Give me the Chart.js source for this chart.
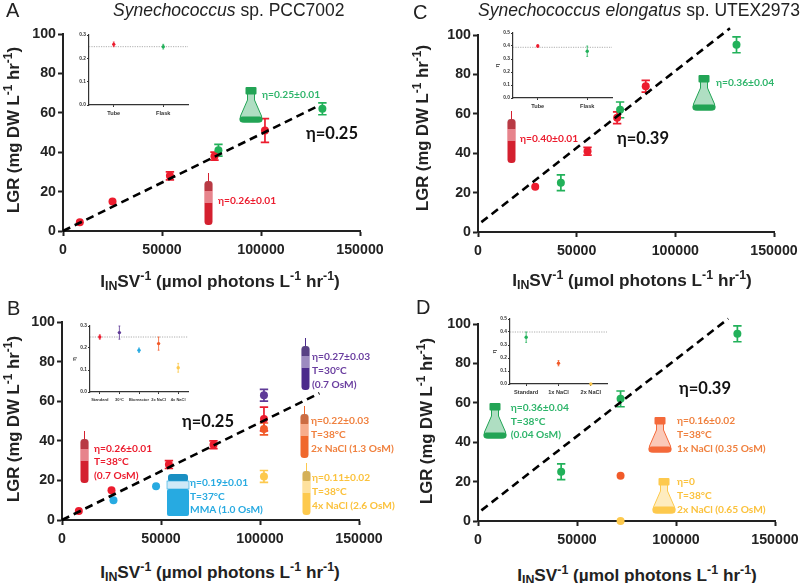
<!DOCTYPE html>
<html><head><meta charset="utf-8">
<script src="https://cdn.jsdelivr.net/npm/chart.js@4"></script>
<style>
html,body{margin:0;padding:0;background:#fff;width:800px;height:583px;overflow:hidden}
#stage{position:relative;width:800px;height:583px}
canvas{position:absolute}
.t{position:absolute;white-space:nowrap;line-height:1;transform:translateY(-50%)}
.note{font:700 10.2px Lato,sans-serif}
.eta{font:700 16.5px Lato,sans-serif;color:#111}
.lab{font:400 20px "Liberation Sans",sans-serif;color:#222}
.ttl{font:400 17.5px "Liberation Sans",sans-serif;color:#222}
.ax{font:700 17.2px "Liberation Sans",sans-serif;color:#222;transform:translate(-50%,-50%)}
.ay{font:700 16.7px "Liberation Sans",sans-serif;color:#222;transform:translate(-50%,-50%) rotate(-90deg)}
sup{font-size:.72em;line-height:0;vertical-align:.55em}
sub{font-size:.72em;line-height:0;vertical-align:-.3em}
svg{position:absolute;overflow:visible}
</style></head><body><div id="stage"></div>
<script>
// Palette
const RED='#ec1c2e',GREEN='#22b15a',BLUE='#27aae1',PURPLE='#5f3a97',ORANGE='#f15a29',YELLOW='#fdc94d',AMBER='#f47a3a';

// Axis ticks
const xTicks=[0,50000,100000,150000];
const yTicks=[0,20,40,60,80,100];

// Panel A
const aRedX=[8500,25000,54000,76500,102000];
const aRedY=[4.5,15,28,38,51];
const aRedErr=[0,0,2,2,6];
const aGreenX=[78500,131000];
const aGreenY=[41,62];
const aGreenErr=[3,3];
const aFitX=[0,129000];
const aFitY=[0,63.5];

// Panel C
const cRedX=[29000,55500,70500,85000];
const cRedY=[23,41,58,74];
const cRedErr=[0,2,3,3];
const cGreenX=[42000,72000,131000];
const cGreenY=[25,62,95];
const cGreenErr=[4,4,4];
const cFitX=[1700,127700];
const cFitY=[5,103.4];

// Panel B
const bRedX=[8500,25000,54000,76500,102000];
const bRedY=[4.5,15,28,38,51];
const bRedErr=[0,0,2,2,6];
const bBlueX=[26000,47500];
const bBlueY=[10,17];
const bBlueErr=[0,0];
const bPurpleX=[102000];
const bPurpleY=[63];
const bPurpleErr=[3];
const bOrangeX=[102000];
const bOrangeY=[46];
const bOrangeErr=[3];
const bYellowX=[102000];
const bYellowY=[22];
const bYellowErr=[3];
const bFitX=[0,130000];
const bFitY=[0,64];

// Panel D
const dGreenX=[42000,72000,131000];
const dGreenY=[25,62,95];
const dGreenErr=[4,4,4];
const dOrangeX=[72000];
const dOrangeY=[23];
const dOrangeErr=[0];
const dYellowX=[72000];
const dYellowY=[0];
const dYellowErr=[0];
const dFitX=[1700,126400];
const dFitY=[5.4,102.7];

// Insets
const iaLabels=['Tube','Flask'];
const iaValues=[0.26,0.25];
const iaErr=[0.01,0.01];
const iaTicks=[0,0.1,0.2,0.3];
const iaRef=0.25;

const icLabels=['Tube','Flask'];
const icValues=[0.40,0.36];
const icErr=[0.01,0.04];
const icTicks=[0,0.1,0.2,0.3,0.4,0.5];
const icRef=0.39;

const ibLabels=['Standard','30°C','Bioreactor','2x NaCl','4x NaCl'];
const ibValues=[0.25,0.27,0.19,0.22,0.11];
const ibErr=[0.01,0.03,0.01,0.03,0.02];
const ibTicks=[0,0.1,0.2,0.3];
const ibRef=0.25;

const idLabels=['Standard','1x NaCl','2x NaCl'];
const idValues=[0.36,0.16,0];
const idErr=[0.04,0.02,0];
const idTicks=[0,0.1,0.2,0.3,0.4,0.5];
const idRef=0.40;

const stage=document.getElementById('stage');

// Error bars, drawn through the chart's own scales
const errorBars={id:'errorBars',beforeDatasetsDraw(ch,a,o){
  const c=ch.ctx,ys=ch.scales.y;
  ch.data.datasets.forEach((ds,i)=>{
    if(!ds.err)return;
    const meta=ch.getDatasetMeta(i);
    meta.data.forEach((p,k)=>{
      const e=ds.err[k];if(!e)return;
      const px=p.x,hi=ys.getPixelForValue(ds.val[k]+e),lo=ys.getPixelForValue(ds.val[k]-e);
      const col=Array.isArray(ds.pointBackgroundColor)?ds.pointBackgroundColor[k]:ds.pointBackgroundColor;
      c.save();c.strokeStyle=col;c.lineWidth=o.width;c.beginPath();
      c.moveTo(px,hi);c.lineTo(px,lo);
      c.moveTo(px-o.cap,hi);c.lineTo(px+o.cap,hi);
      c.moveTo(px-o.cap,lo);c.lineTo(px+o.cap,lo);
      c.stroke();c.restore();
    });
  });
}};
// Dotted reference level of the insets
const refLine={id:'refLine',beforeDatasetsDraw(ch,a,o){
  if(o.value==null)return;
  const c=ch.ctx,y=ch.scales.y.getPixelForValue(o.value),A=ch.chartArea;
  c.save();c.strokeStyle='#9a9a9a';c.lineWidth=.8;c.setLineDash([1.2,1.2]);
  c.beginPath();c.moveTo(A.left,y);c.lineTo(A.right,y);c.stroke();c.restore();
}};

function place(left,top,w,h){
  const cv=document.createElement('canvas');
  cv.width=w;cv.height=h;cv.style.left=left+'px';cv.style.top=top+'px';
  cv.style.width=w+'px';cv.style.height=h+'px';
  stage.appendChild(cv);return cv;
}
function series(xs,ys,err,color){
  return {type:'scatter',data:xs.map((x,i)=>({x,y:ys[i]})),val:ys,err,
    pointBackgroundColor:color,pointBorderColor:color,pointRadius:4,pointBorderWidth:0,clip:false};
}
function fit(xs,ys){
  return {type:'line',data:xs.map((x,i)=>({x,y:ys[i]})),borderColor:'#000',borderWidth:2.6,
    borderDash:[8,5],pointRadius:0,clip:false,tension:0};
}
function mainChart(x0,x1,y0,y100,sets){
  const L=62,T=14,R=32,B=30;
  const w=Math.round(x1-x0),h=Math.round(y0-y100);
  const cv=place(x0-L,y100-T,w+L+R,h+T+B);
  const fnt={family:'"Liberation Sans",sans-serif',size:14.2,weight:'700'};
  const ax=(ticks,pad)=>({
    border:{color:'#222',width:2},
    grid:{drawOnChartArea:false,drawTicks:true,tickLength:5,tickWidth:2,tickColor:'#222'},
    ticks:{color:'#222',font:fnt,padding:pad,maxRotation:0,autoSkip:false,callback:v=>String(v)},
    afterBuildTicks(s){s.ticks=ticks.map(v=>({value:v}));}
  });
  new Chart(cv,{type:'scatter',data:{datasets:sets},plugins:[errorBars],options:{
    responsive:false,animation:false,devicePixelRatio:1,
    layout:{padding:{left:0,top:T,right:R,bottom:0}},
    plugins:{legend:{display:false},tooltip:{enabled:false},errorBars:{width:1.7,cap:4.2}},
    scales:{
      x:Object.assign(ax(xTicks,6),{type:'linear',min:0,max:150000,afterFit(s){s.height=B;}}),
      y:Object.assign(ax(yTicks,2),{type:'linear',min:0,max:100,afterFit(s){s.width=L;}})
    }}});
}
function inset(x0,x1,y0,yTop,labels,values,err,colors,ticks,ref,showEta,catSize){
  const L=20,T=5,R=6,B=14;
  const w=Math.round(x1-x0),h=Math.round(y0-yTop);
  const cv=place(x0-L,yTop-T,w+L+R,h+T+B);
  const fnt={family:'"Liberation Sans",sans-serif',size:4.8,weight:'700'};
  const catFnt={family:'"Liberation Sans",sans-serif',size:catSize,weight:'700'};
  const common={border:{color:'#333',width:1.2},
    grid:{drawOnChartArea:false,drawTicks:true,tickLength:2,tickWidth:1,tickColor:'#333'}};
  new Chart(cv,{type:'line',data:{labels,datasets:[{data:values,val:values,err,showLine:false,
      pointBackgroundColor:colors,pointBorderColor:colors,pointRadius:1.7,pointBorderWidth:0,clip:false}]},
    plugins:[refLine,errorBars],options:{
    responsive:false,animation:false,devicePixelRatio:1,
    layout:{padding:{left:0,top:T,right:R,bottom:0}},
    plugins:{legend:{display:false},tooltip:{enabled:false},refLine:{value:ref},errorBars:{width:.8,cap:.9}},
    scales:{
      x:Object.assign({},common,{type:'category',offset:true,
        ticks:{color:'#333',font:catFnt,padding:3,maxRotation:0,autoSkip:false},afterFit(s){s.height=B;}}),
      y:Object.assign({},common,{type:'linear',min:0,max:ticks[ticks.length-1],
        title:{display:showEta,text:'η',color:'#333',padding:0,font:{family:'Lato,sans-serif',size:6,weight:'700'}},
        ticks:{color:'#333',font:fnt,padding:1,autoSkip:false,callback:v=>v.toFixed(1)},
        afterBuildTicks(s){s.ticks=ticks.map(v=>({value:v}));},afterFit(s){s.width=L;}})
    }}});
}
function text(cls,x,y,html,color,extra){
  const d=document.createElement('div');d.className='t '+cls;d.style.left=x+'px';d.style.top=y+'px';
  d.innerHTML=html;if(color)d.style.color=color;if(extra)Object.assign(d.style,extra);stage.appendChild(d);
}
function notes(x,ys,lines,color){lines.forEach((l,i)=>text('note',x,ys[i],l,color));}
function svg(x,y,w,h,vb,inner){
  stage.insertAdjacentHTML('beforeend',`<svg style="left:${x}px;top:${y}px" width="${w}" height="${h}" viewBox="${vb}">${inner}</svg>`);
}
function flask(x,y,c,liq){
  liq=liq||6;
  svg(x,y,24,36,'0 0 24 36',
   `<path d="M8.5 6V13L1.5 29Q0 35 5 35H19Q24 35 22.5 29L15.5 13V6Z" fill="${c}" fill-opacity=".36" stroke="${c}" stroke-width="1"/>
    <rect x="0.5" y="${35.5-liq}" width="23" height="${liq}" rx="${Math.min(liq/2,3)}" fill="${c}"/>
    <rect x="6.5" y="0" width="11" height="7.5" rx="1" fill="${c}"/>`);
}
function tube(x,y,c,dark){
  svg(x,y,9,52,'0 0 9 52',
   `<rect x="4" y="0" width="1" height="10" fill="${c}"/>
    <rect x="0.5" y="8" width="8" height="44" rx="3.5" fill="${c}"/>
    <rect x="0.5" y="8" width="8" height="10" rx="2" fill="#777" fill-opacity=".3"/>
    <rect x="0.5" y="18" width="8" height="12" fill="#fff" fill-opacity=".45"/>`);
}
function bottle(x,y,c){
  svg(x,y,22,42,'0 0 22 42',
   `<rect x="1" y="0" width="20" height="8" rx="3" fill="#1a8fc2"/>
    <rect x="0" y="7" width="22" height="8" fill="#cfe9f7" stroke="${c}" stroke-width=".6"/>
    <rect x="0" y="15" width="22" height="27" rx="2" fill="${c}"/>`);
}

// Panels
mainChart(62.7,360,231.7,34.3,[fit(aFitX,aFitY),series(aRedX,aRedY,aRedErr,RED),series(aGreenX,aGreenY,aGreenErr,GREEN)]);
mainChart(478.3,774,231.7,35,[fit(cFitX,cFitY),series(cRedX,cRedY,cRedErr,RED),series(cGreenX,cGreenY,cGreenErr,GREEN)]);
mainChart(62,359.3,520,322.3,[fit(bFitX,bFitY),series(bRedX,bRedY,bRedErr,RED),series(bBlueX,bBlueY,bBlueErr,BLUE),
  series(bPurpleX,bPurpleY,bPurpleErr,PURPLE),series(bOrangeX,bOrangeY,bOrangeErr,ORANGE),series(bYellowX,bYellowY,bYellowErr,YELLOW)]);
mainChart(478.3,775,520.7,323.7,[fit(dFitX,dFitY),series(dGreenX,dGreenY,dGreenErr,GREEN),series(dOrangeX,dOrangeY,dOrangeErr,ORANGE),series(dYellowX,dYellowY,dYellowErr,YELLOW)]);

inset(89.3,188,105,35,iaLabels,iaValues,iaErr,[RED,GREEN],iaTicks,iaRef,false,5.6);
inset(513.3,612.3,98.3,33.3,icLabels,icValues,icErr,[RED,GREEN],icTicks,icRef,true,5.6);
inset(90,188.3,391.3,325.7,ibLabels,ibValues,ibErr,[RED,PURPLE,BLUE,ORANGE,YELLOW],ibTicks,ibRef,true,4);
inset(510,607,384.3,319.3,idLabels,idValues,idErr,[GREEN,ORANGE,YELLOW],idTicks,idRef,true,5.6);

// Icons
flask(239,87,'#22a455');
tube(204,173,'#d4202f');
flask(692,75,'#22a455');
tube(507,111,'#d4202f');
tube(80,431,'#d4202f');
tube(301,338,'#4b2a8c');
tube(300,406,'#f0682d');
tube(302,463,'#fdc94d');
bottle(167,474,BLUE);
flask(483,403,'#22a455');
flask(648,417,'#f4693a');
flask(652,478,'#fdc94d',7);

// Letters and titles
text('lab',6,10,'A');
text('lab',400+13,12,'C');
text('lab',7,308,'B');
text('lab',400+16,307,'D');
text('ttl',113,10,'<i>Synechococcus</i> sp. PCC7002');
text('ttl',478,10,'<i>Synechococcus elongatus</i> sp. UTEX2973');

// Axis titles
const xTitle='I<sub>IN</sub>SV<sup>-1</sup> (µmol photons L<sup>-1</sup> hr<sup>-1</sup>)';
const yTitle='LGR (mg DW L<sup>-1</sup> hr<sup>-1</sup>)';
text('ax',220,281,xTitle);text('ax',632,280,xTitle);text('ax',220,571.7,xTitle);text('ax',637,575,xTitle);
text('ay',14,130,yTitle);text('ay',423,128,yTitle);text('ay',14,419,yTitle);text('ay',427,421,yTitle);

// Annotations
text('eta',306,133,'η=0.25');text('eta',617,138,'η=0.39');text('eta',182,421,'η=0.25');text('eta',679,388,'η=0.39');
notes(262,[94],['η=0.25±0.01'],'#2fb56b');
notes(218,[200],['η=0.26±0.01'],RED);
notes(520,[138],['η=0.40±0.01'],RED);
notes(716,[82],['η=0.36±0.04'],'#2fb56b');
notes(94,[447.7,461,475],['η=0.26±0.01','T=38°C','(0.7 OsM)'],RED);
notes(190,[481.7,495.7,509.3],['η=0.19±0.01','T=37°C','MMA (1.0 OsM)'],BLUE);
notes(312,[356,370.3,384],['η=0.27±0.03','T=30°C','(0.7 OsM)'],'#6b3fa0');
notes(311,[420,434,448],['η=0.22±0.03','T=38°C','2x NaCl (1.3 OsM)'],'#f0813f');
notes(312,[477,491,505],['η=0.11±0.02','T=38°C','4x NaCl (2.6 OsM)'],'#fbc23d');
notes(510.7,[406.7,420.7,434],['η=0.36±0.04','T=38°C','(0.04 OsM)'],'#2fb56b');
notes(677,[420,433.7,447.7],['η=0.16±0.02','T=38°C','1x NaCl (0.35 OsM)'],'#f0813f');
notes(677,[481.3,495.3,509],['η=0','T=38°C','2x NaCl (0.65 OsM)'],'#fbc23d');
</script></body></html>
